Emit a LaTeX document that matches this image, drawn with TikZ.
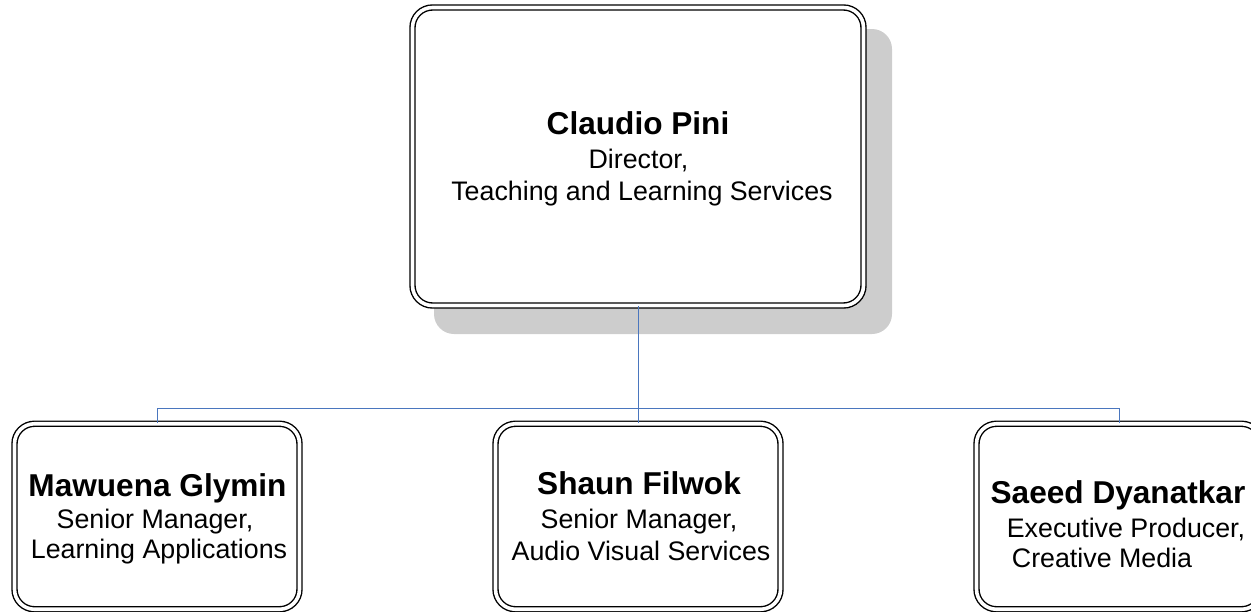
\documentclass[tikz,border=0pt]{standalone}
\usepackage{fontspec}
\setmainfont{Liberation Sans}
\begin{document}
\begin{tikzpicture}[x=0.75pt,y=-0.75pt,
  box/.style={draw=black, fill=white, double=white, double distance=3.6pt*0.75, line width=1.4pt*0.75,
    rounded corners=15pt, inner sep=0pt},
  conn/.style={draw=linkblue, line width=1pt*0.75},
  ttl/.style={anchor=base, inner sep=0pt, font=\fontsize{23.7}{28}\selectfont\bfseries},
  sub/.style={anchor=base, inner sep=0pt, font=\fontsize{20.1}{24}\selectfont}]
\definecolor{linkblue}{HTML}{4A76BE}
\definecolor{shadowgray}{HTML}{CDCDCD}
\useasboundingbox (0,0) rectangle (1251,611);
% shadow
\fill[shadowgray, rounded corners=15pt] (434,29) rectangle (892,334);
% boxes
\node[box, minimum width=451*0.75pt, minimum height=298*0.75pt] (top) at (638,156.5) {};
\node[box, minimum width=285*0.75pt, minimum height=185.5*0.75pt] (b1) at (157,516.5) {};
\node[box, minimum width=285*0.75pt, minimum height=185.5*0.75pt] (b2) at (638,516.5) {};
\node[box, minimum width=285*0.75pt, minimum height=185.5*0.75pt] (b3) at (1119,516.5) {};
% connectors
\coordinate (bus) at (638,408);
\draw[conn] (top.south) -- (bus);
\draw[conn] (bus) -| (b1.north);
\draw[conn] (bus) -- (b2.north);
\draw[conn] (bus) -| (b3.north);
% texts
\node[ttl] (t1) at (638,134) {Claudio Pini};
\node[sub] (t2) at (638.5,168) {Director,};
\node[sub] (t3) at (642,200) {Teaching and Learning Services};
\node[ttl] (l1) at (157.5,496) {Mawuena Glymin};
\node[sub] (l2) at (155,528) {Senior Manager,};
\node[sub] (l3) at (159,558.5) {Learning Applications};
\node[ttl] (m1) at (639,494) {Shaun Filwok};
\node[sub] (m2) at (639,528) {Senior Manager,};
\node[sub] (m3) at (641,560) {Audio Visual Services};
\node[ttl] (r1) at (1118,503) {Saeed Dyanatkar};
\node[sub] (r2) at (1126,537) {Executive Producer,};
\node[sub] (r3) at (1102,567) {Creative Media};
\end{tikzpicture}
\end{document}
